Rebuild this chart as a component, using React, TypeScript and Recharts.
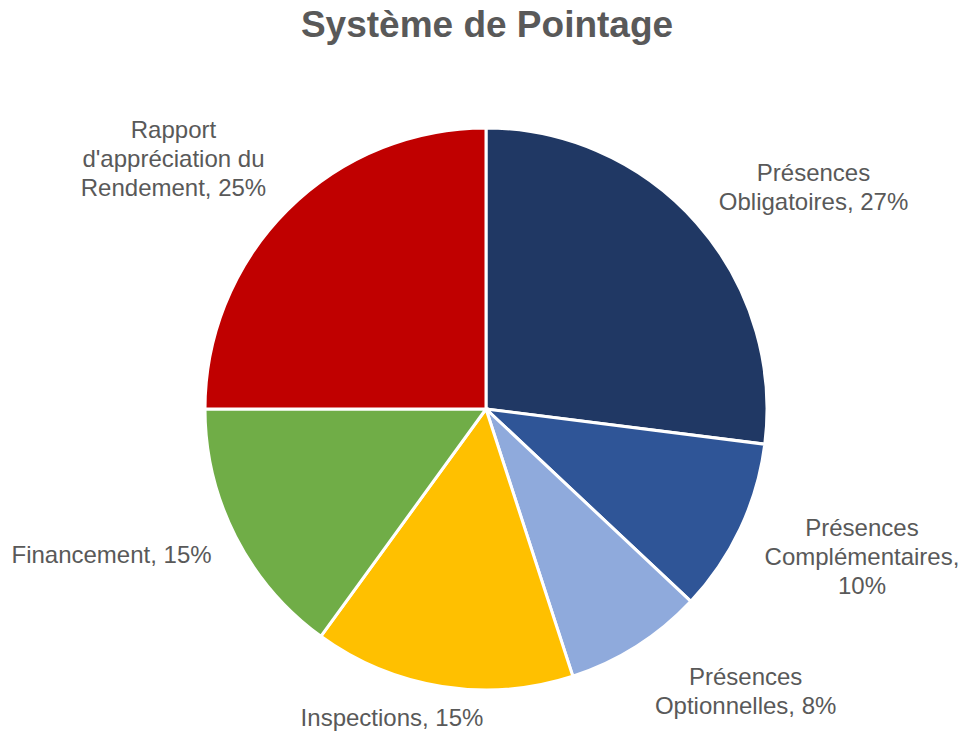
import { PieChart, Pie, Cell } from "recharts";

const categories = [
  "Présences Obligatoires",
  "Présences Complémentaires",
  "Présences Optionnelles",
  "Inspections",
  "Financement",
  "Rapport d'appréciation du Rendement",
];
const values = [27, 10, 8, 15, 15, 25];
// how each label breaks over lines, as Excel wrapped them
const labelLines = [
  ["Présences", "Obligatoires, 27%"],
  ["Présences", "Complémentaires,", "10%"],
  ["Présences", "Optionnelles, 8%"],
  ["Inspections, 15%"],
  ["Financement, 15%"],
  ["Rapport", "d'appréciation du", "Rendement, 25%"],
];
const colors = ["#203864", "#2F5597", "#8FAADC", "#FFC000", "#70AD47", "#C00000"];

// label offset from a point just outside the slice
const labelNudge = [
  [83, -6],
  [81, 9],
  [85, 7],
  [-43, -13],
  [-84, -3],
  [-82, -20],
];

const data = categories.map((name, i) => ({ name, value: values[i] }));

const FONT = "'Liberation Sans', Arial, sans-serif";
const TEXT = "#595959";
const RADIAN = Math.PI / 180;
const LINE_H = 29;

function renderLabel(props: any) {
  const { cx, cy, midAngle, outerRadius, index } = props;
  const r = outerRadius + 45;
  const x = cx + r * Math.cos(-midAngle * RADIAN) + labelNudge[index][0];
  const yc = cy + r * Math.sin(-midAngle * RADIAN) + labelNudge[index][1];
  const lines = labelLines[index];
  const top = yc - ((lines.length - 1) * LINE_H) / 2 + 8.5;
  return (
    <text
      key={"lbl" + index}
      x={x}
      y={top}
      textAnchor="middle"
      fill={TEXT}
      fontSize={24}
      fontFamily={FONT}
    >
      {lines.map((l, i) => (
        <tspan key={i} x={x} y={top + i * LINE_H}>
          {l}
        </tspan>
      ))}
    </text>
  );
}

export default function App() {
  return (
    <div style={{ position: "relative", width: 965, height: 733, background: "#fff" }}>
      <style>{"body{margin:0}"}</style>
      <PieChart
        width={965}
        height={733}
        margin={{ top: 0, right: 0, bottom: 0, left: 0 }}
        style={{ position: "absolute", left: 0, top: 0 }}
      >
        <Pie
          data={data}
          dataKey="value"
          nameKey="name"
          cx={486}
          cy={409}
          outerRadius={281}
          startAngle={90}
          endAngle={-270}
          stroke="#ffffff"
          strokeWidth={3}
          label={renderLabel}
          labelLine={false}
          isAnimationActive={false}
        >
          {data.map((d, i) => (
            <Cell key={d.name} fill={colors[i]} />
          ))}
        </Pie>
      </PieChart>
      <svg
        width={965}
        height={60}
        style={{ position: "absolute", left: 0, top: 0, pointerEvents: "none" }}
      >
        <text
          x={487}
          y={37}
          textAnchor="middle"
          fill={TEXT}
          fontSize={37}
          fontWeight="bold"
          fontFamily={FONT}
        >
          Système de Pointage
        </text>
      </svg>
    </div>
  );
}
